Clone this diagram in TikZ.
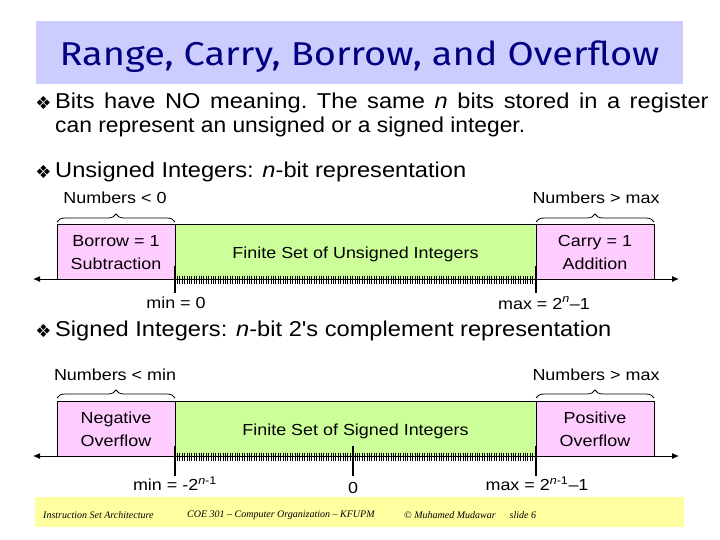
\documentclass[tikz,border=0pt]{standalone}
\usepackage{graphicx}
\usepackage{fontspec}
\setmainfont{Liberation Sans}[Ligatures=TeXOff]
\newfontfamily\titlefont{Fira Sans}
\newfontfamily\symfont{DejaVu Sans}
\newfontfamily\footfont{Liberation Serif}
\usetikzlibrary{decorations.pathreplacing,arrows.meta}
\definecolor{titlebg}{RGB}{204,204,255}
\definecolor{titlefg}{RGB}{0,0,128}
\definecolor{pinkbox}{RGB}{255,204,255}
\definecolor{greenbox}{RGB}{204,255,153}
\definecolor{footbg}{RGB}{255,255,160}
\newcommand{\bodyw}[1]{\scalebox{1.10}[1]{#1}}
\newcommand{\lblw}[1]{\scalebox{1.12}[1]{#1}}
\newcommand{\lowered}[2]{\raisebox{-#1}[\height][\depth]{#2}}
\newcommand{\twolines}[2]{\lowered{2pt}{\lblw{\begin{tabular}{@{}c@{}}#1\\#2\end{tabular}}}}
\tikzset{
  region/.style={draw=black, line width=0.4pt, minimum height=55pt, inner sep=0pt, align=center, font=\fontsize{16}{23}\selectfont},
  outbox/.style={region, fill=pinkbox, minimum width=118pt},
  setbox/.style={region, fill=greenbox, minimum width=361pt},
  bodytext/.style={anchor=west, inner sep=0pt, font=\fontsize{21.5}{25}\selectfont},
  bul/.style={inner sep=0pt, font=\symfont\fontsize{18}{20}\selectfont},
  lbl/.style={inner sep=0pt, font=\fontsize{16}{19}\selectfont},
  bracefig/.style={decorate, decoration={brace, amplitude=8pt}, line width=0.8pt},
  axisline/.style={line width=1pt, {Latex[length=7pt,width=6pt]}-{Latex[length=7pt,width=6pt]}},
  bigtick/.style={line width=2.2pt},
  smalltick/.style={line width=0.9pt},
  foot/.style={inner sep=0pt, anchor=west, font=\footfont\itshape\fontsize{10}{12}\selectfont}
}
\begin{document}
\begin{tikzpicture}[x=1pt,y=-1pt]
\useasboundingbox (0,0) rectangle (720,540);
\fill[white] (0,0) rectangle (720,540);
% title
\node[fill=titlebg, minimum width=647pt, minimum height=63pt, inner sep=0pt] (titlebox) at (359.5,52.5) {};
\node[text=titlefg, font=\titlefont\fontsize{33}{36}\selectfont] (title) at (359.5,56.5) {\scalebox{1.15}[1]{Range, Carry, Borrow, and Overflow}};
% bullets
\node[bul] (b1) at (43.5,103) {❖};
\node[bodytext] (t1) at (55,103) {\bodyw{\frenchspacing\spaceskip=8.7pt Bits have NO meaning. The same \textit{n} bits stored in a register}};
\node[bodytext] (t2) at (55,127) {\scalebox{1.06}[1]{can represent an unsigned or a signed integer.}};
\node[bul] (b2) at (43.5,172) {❖};
\node[bodytext] (t3) at (55,172) {\bodyw{Unsigned Integers: \textit{n}-bit representation}};
\node[bul] (b3) at (43.5,331) {❖};
\node[bodytext] (t4) at (55,331) {\bodyw{Signed Integers: \textit{n}-bit 2's complement representation}};
% ---------- unsigned ----------
\node[lbl] (ulow) at (115,198) {\lblw{Numbers < 0}};
\node[lbl] (uhigh) at (596,198) {\lblw{Numbers > max}};
\coordinate (ubl1) at (57,222); \coordinate (ubl2) at (175,222);
\coordinate (ubr1) at (536,222); \coordinate (ubr2) at (654,222);
\draw[bracefig] (ubl1) -- (ubl2);
\draw[bracefig] (ubr1) -- (ubr2);
\node[outbox] (borrow) at (116,251.5) {\twolines{Borrow = 1}{Subtraction}};
\node[setbox] (uset) at (355.5,251.5) {\lowered{3pt}{\lblw{Finite Set of Unsigned Integers}}};
\node[outbox] (carry) at (595,251.5) {\twolines{Carry = 1}{Addition}};
\coordinate (uaxl) at (33,279); \coordinate (uaxr) at (679,279);
\draw[axisline] (uaxl) -- (uaxr);
\foreach \x in {177.4,179.8,...,534.5} \draw[smalltick] (\x,275.5) -- (\x,283.5);
\coordinate (umint) at (175,266); \coordinate (uminb) at (175,293);
\coordinate (umaxt) at (536,266); \coordinate (umaxb) at (536,293);
\draw[bigtick] (umint) -- (uminb);
\draw[bigtick] (umaxt) -- (umaxb);
\node[lbl] (umin) at (176,303) {\lblw{min = 0}};
\node[lbl] (umax) at (544,303) {\lblw{max = 2\textsuperscript{\textit{n}}–1}};
% ---------- signed ----------
\node[lbl] (slow) at (115,375) {\lblw{Numbers < min}};
\node[lbl] (shigh) at (596,375) {\lblw{Numbers > max}};
\coordinate (sbl1) at (57,398); \coordinate (sbl2) at (175,398);
\coordinate (sbr1) at (536,398); \coordinate (sbr2) at (654,398);
\draw[bracefig] (sbl1) -- (sbl2);
\draw[bracefig] (sbr1) -- (sbr2);
\node[outbox] (negov) at (116,428.5) {\twolines{Negative}{Overflow}};
\node[setbox] (sset) at (355.5,428.5) {\lowered{3pt}{\lblw{Finite Set of Signed Integers}}};
\node[outbox] (posov) at (595,428.5) {\twolines{Positive}{Overflow}};
\coordinate (saxl) at (33,456); \coordinate (saxr) at (679,456);
\draw[axisline] (saxl) -- (saxr);
\foreach \x in {177.4,179.8,...,534.5} \draw[smalltick] (\x,452.5) -- (\x,460.5);
\coordinate (smint) at (175,446); \coordinate (sminb) at (175,476);
\coordinate (szt) at (353,446); \coordinate (szb) at (353,476);
\coordinate (smaxt) at (536,446); \coordinate (smaxb) at (536,476);
\draw[bigtick] (smint) -- (sminb);
\draw[bigtick] (szt) -- (szb);
\draw[bigtick] (smaxt) -- (smaxb);
\node[lbl] (smin) at (175,484) {\lblw{min = -2\textsuperscript{\textit{n}-1}}};
\node[lbl] (szero) at (353,488) {\lblw{0}};
\node[lbl] (smax) at (537,484) {\lblw{max = 2\textsuperscript{\textit{n}-1}–1}};
% footer
\node[fill=footbg, minimum width=649pt, minimum height=30pt, inner sep=0pt] (footer) at (359.5,512) {};
\node[foot] (f1) at (43,515) {Instruction Set Architecture};
\node[foot] (f2) at (187,515) {COE 301 – Computer Organization – KFUPM};
\node[foot] (f3) at (404,515) {© Muhamed Mudawar\hspace{14pt}slide 6};
\end{tikzpicture}
\end{document}
